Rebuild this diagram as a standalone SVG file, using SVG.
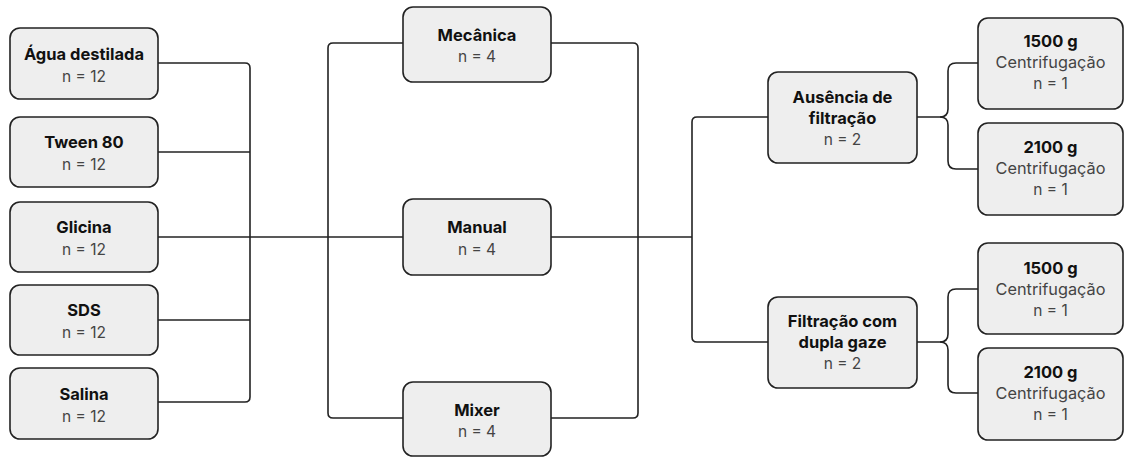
<svg xmlns="http://www.w3.org/2000/svg" width="1125" height="457" viewBox="0 0 1125 457">
<style>
.box{fill:#eeeeee;stroke:#222;stroke-width:1.6}
.t{font-family:Inter,"Liberation Sans",sans-serif;font-size:16.5px;font-weight:700;fill:#111;text-anchor:middle}
.n{font-family:Inter,"Liberation Sans",sans-serif;font-size:15.5px;font-weight:400;fill:#444;text-anchor:middle}
.cf{font-family:Inter,"Liberation Sans",sans-serif;font-size:16.3px;font-weight:400;fill:#444;text-anchor:middle}
.c{fill:none;stroke:#222;stroke-width:1.6}
</style>
<rect width="1125" height="457" fill="#fff"/>
<g id="connectors">
<path class="c" d="M158,63 H245 Q250,63 250,68 V397 Q250,402 245,402 H158"/>
<path class="c" d="M158,152 H250"/>
<path class="c" d="M158,320 H250"/>
<path class="c" d="M158,237 H403"/>
<path class="c" d="M403,43 H333 Q328,43 328,48 V413 Q328,418 333,418 H403"/>
<path class="c" d="M551,43 H633 Q638,43 638,48 V413 Q638,418 633,418 H551"/>
<path class="c" d="M551,237 H692"/>
<path class="c" d="M768,117 H697 Q692,117 692,122 V337 Q692,342 697,342 H768"/>
<path class="c" d="M917,117 H940 Q948,117 948,109 V71 Q948,63 956,63 H978"/>
<path class="c" d="M940,117 Q948,117 948,125 V161 Q948,169 956,169 H978"/>
<path class="c" d="M917,342 H940 Q948,342 948,334 V297 Q948,289 956,289 H978"/>
<path class="c" d="M940,342 Q948,342 948,350 V385 Q948,393 956,393 H978"/>
</g>
<g id="agua"><rect class="box" x="10" y="28" width="148" height="71" rx="10"/><text class="t" x="84" y="60">Água destilada</text><text class="n" x="84" y="82">n = 12</text></g>
<g id="tween"><rect class="box" x="10" y="117" width="148" height="70" rx="10"/><text class="t" x="84" y="148">Tween 80</text><text class="n" x="84" y="170">n = 12</text></g>
<g id="glicina"><rect class="box" x="10" y="202" width="148" height="70" rx="10"/><text class="t" x="84" y="233">Glicina</text><text class="n" x="84" y="255">n = 12</text></g>
<g id="sds"><rect class="box" x="10" y="285" width="148" height="70" rx="10"/><text class="t" x="84" y="316">SDS</text><text class="n" x="84" y="338">n = 12</text></g>
<g id="salina"><rect class="box" x="10" y="368" width="148" height="71" rx="10"/><text class="t" x="84" y="400">Salina</text><text class="n" x="84" y="422">n = 12</text></g>
<g id="mecanica"><rect class="box" x="403" y="7" width="148" height="75" rx="10"/><text class="t" x="477" y="41">Mecânica</text><text class="n" x="477" y="62">n = 4</text></g>
<g id="manual"><rect class="box" x="403" y="199" width="148" height="76" rx="10"/><text class="t" x="477" y="233">Manual</text><text class="n" x="477" y="255">n = 4</text></g>
<g id="mixer"><rect class="box" x="403" y="382" width="148" height="74" rx="10"/><text class="t" x="477" y="416">Mixer</text><text class="n" x="477" y="437">n = 4</text></g>
<g id="ausencia"><rect class="box" x="768" y="72" width="149" height="91" rx="10"/><text class="t" x="842.5" y="103">Ausência de</text><text class="t" x="842.5" y="124">filtração</text><text class="n" x="842.5" y="145">n = 2</text></g>
<g id="filtracao"><rect class="box" x="768" y="297" width="149" height="91" rx="10"/><text class="t" x="842.5" y="327">Filtração com</text><text class="t" x="842.5" y="348">dupla gaze</text><text class="n" x="842.5" y="369">n = 2</text></g>
<g id="a1500"><rect class="box" x="978" y="18" width="145" height="91" rx="10"/><text class="t" x="1050.5" y="47">1500 g</text><text class="cf" x="1050.5" y="68">Centrifugação</text><text class="n" x="1050.5" y="89">n = 1</text></g>
<g id="a2100"><rect class="box" x="978" y="123" width="145" height="92" rx="10"/><text class="t" x="1050.5" y="153">2100 g</text><text class="cf" x="1050.5" y="174">Centrifugação</text><text class="n" x="1050.5" y="195">n = 1</text></g>
<g id="f1500"><rect class="box" x="978" y="243" width="145" height="91" rx="10"/><text class="t" x="1050.5" y="274">1500 g</text><text class="cf" x="1050.5" y="295">Centrifugação</text><text class="n" x="1050.5" y="316">n = 1</text></g>
<g id="f2100"><rect class="box" x="978" y="348" width="145" height="92" rx="10"/><text class="t" x="1050.5" y="378">2100 g</text><text class="cf" x="1050.5" y="399">Centrifugação</text><text class="n" x="1050.5" y="420">n = 1</text></g>
</svg>
